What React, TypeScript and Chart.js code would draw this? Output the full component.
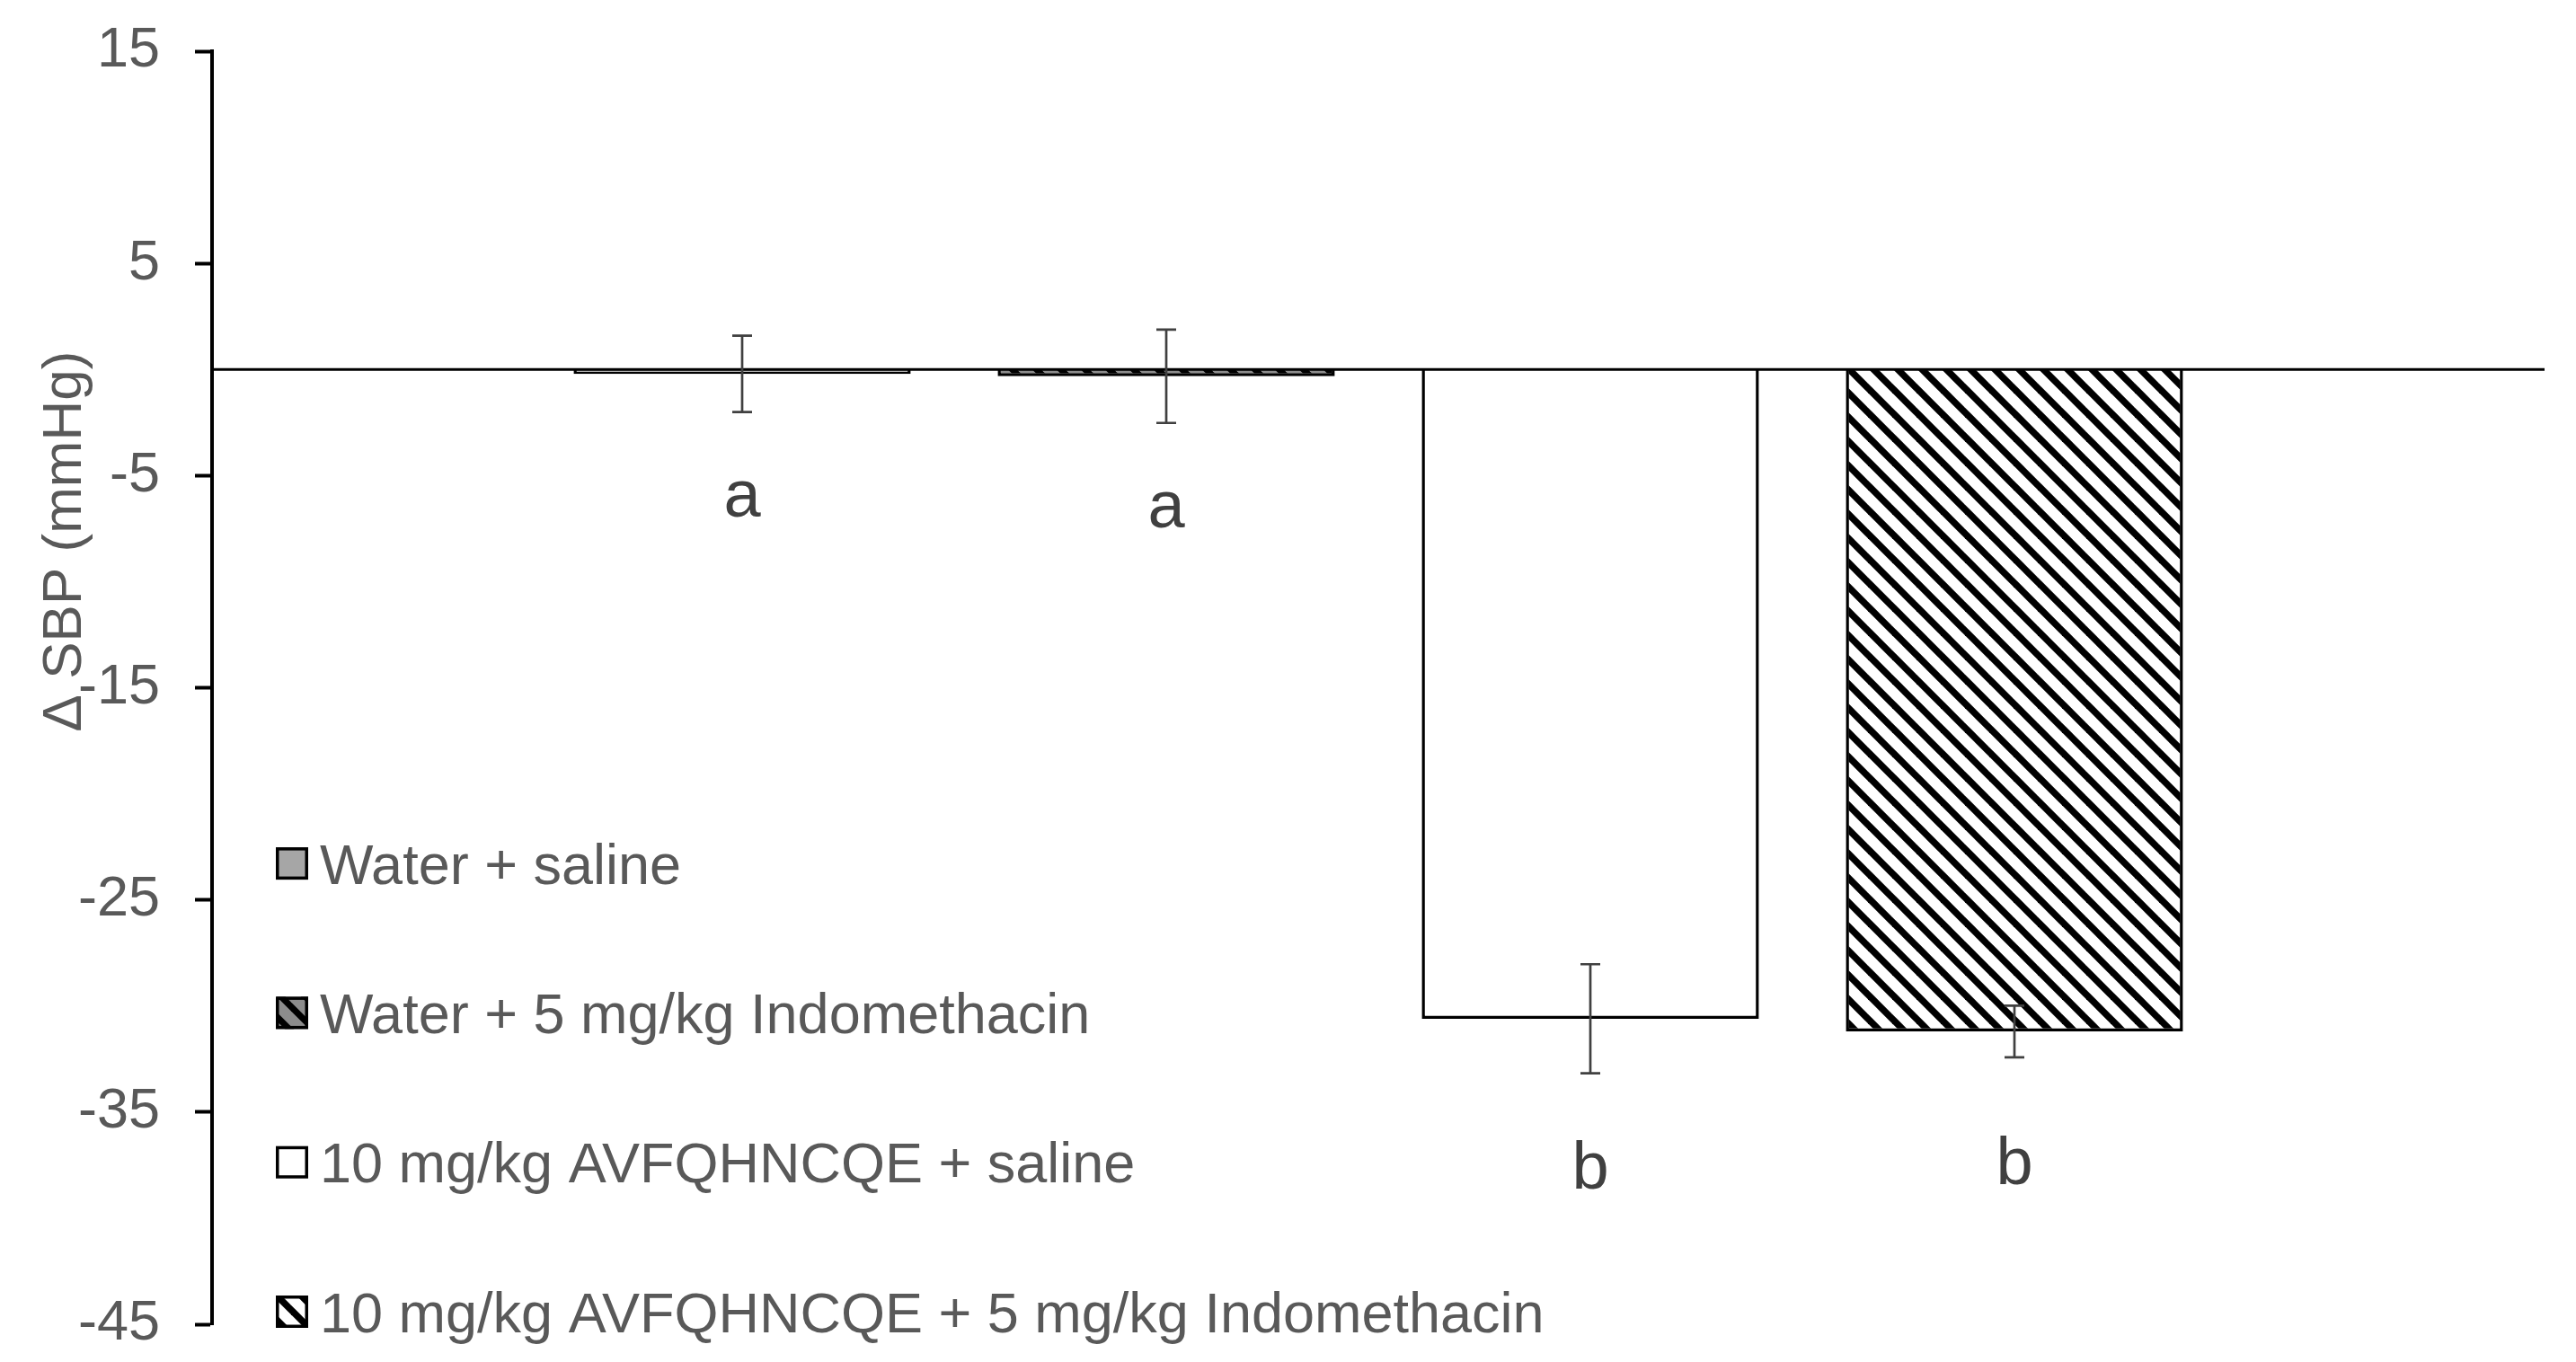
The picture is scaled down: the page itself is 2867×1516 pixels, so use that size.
import React, { useEffect, useRef } from "react";
import { Chart, registerables } from "chart.js";

Chart.register(...registerables);

// ---- data ----
const seriesNames = [
  "Water + saline",
  "Water + 5 mg/kg Indomethacin",
  "10 mg/kg AVFQHNCQE + saline",
  "10 mg/kg AVFQHNCQE + 5 mg/kg Indomethacin",
];
const sbpChange = [-0.21, -0.32, -30.6, -31.2];
const sbpError = [1.8, 2.2, 2.57, 1.22];
const sigLetters = ["a", "a", "b", "b"];
const letterValue = [-6.95, -7.44, -38.6, -38.4];
const yAxisTitle = "\u0394 SBP (mmHg)";
const yMin = -45;
const yMax = 15;
const yStep = 10;

const FONT = "'Liberation Sans', Arial, sans-serif";

function makeHatch(bg: string, fg: string, size: number, lw: number) {
  const c = document.createElement("canvas");
  c.width = size;
  c.height = size;
  const g = c.getContext("2d")!;
  g.fillStyle = bg;
  g.fillRect(0, 0, size, size);
  g.strokeStyle = fg;
  g.lineWidth = lw;
  for (let k = -1; k <= 1; k++) {
    g.beginPath();
    g.moveTo(k * size - size, -size);
    g.lineTo(k * size + 2 * size, 2 * size);
    g.stroke();
  }
  return g.createPattern(c, "repeat")!;
}

export default function App() {
  const ref = useRef<HTMLCanvasElement | null>(null);

  useEffect(() => {
    const canvas = ref.current!;
    const fills: any[] = [
      "#a6a6a6",
      makeHatch("#000000", "#8c8c8c", 27, 12),
      "#ffffff",
      makeHatch("#ffffff", "#000000", 27, 7.5),
    ];

    const overlay = {
      id: "overlay",
      afterDatasetsDraw(chart: any) {
        const ctx = chart.ctx;
        const xs = chart.scales.x;
        const ys = chart.scales.y;
        const area = chart.chartArea;
        ctx.save();
        // zero line
        const y0 = ys.getPixelForValue(0);
        ctx.strokeStyle = "#000";
        ctx.lineWidth = 3;
        ctx.beginPath();
        ctx.moveTo(area.left, y0);
        ctx.lineTo(area.right, y0);
        ctx.stroke();
        // error bars
        ctx.strokeStyle = "#404040";
        ctx.lineWidth = 2.7;
        sbpChange.forEach((v, i) => {
          const x = xs.getPixelForValue(i);
          const yt = ys.getPixelForValue(v + sbpError[i]);
          const yb = ys.getPixelForValue(v - sbpError[i]);
          ctx.beginPath();
          ctx.moveTo(x, yt);
          ctx.lineTo(x, yb);
          ctx.moveTo(x - 11, yt);
          ctx.lineTo(x + 11, yt);
          ctx.moveTo(x - 11, yb);
          ctx.lineTo(x + 11, yb);
          ctx.stroke();
        });
        // letters
        ctx.fillStyle = "#404040";
        ctx.font = `74px ${FONT}`;
        ctx.textAlign = "center";
        ctx.textBaseline = "alphabetic";
        sigLetters.forEach((t, i) => {
          ctx.fillText(t, xs.getPixelForValue(i), ys.getPixelForValue(letterValue[i]));
        });
        // legend
        const rowGap = 166.3;
        const boxX = area.left + 71;
        const box = 36;
        ctx.font = `63px ${FONT}`;
        ctx.textAlign = "left";
        seriesNames.forEach((name, i) => {
          const cy = area.bottom - 14 - (seriesNames.length - 1 - i) * rowGap;
          ctx.fillStyle = fills[i];
          ctx.fillRect(boxX, cy - box / 2, box, box);
          ctx.strokeStyle = "#000";
          ctx.lineWidth = 3.5;
          ctx.strokeRect(boxX + 1.75, cy - box / 2 + 1.75, box - 3.5, box - 3.5);
          ctx.fillStyle = "#595959";
          ctx.fillText(name, boxX + box + 13, cy + 0.358 * 63);
        });
        // y axis title
        ctx.save();
        ctx.translate(90, area.top + 0.385 * (area.bottom - area.top));
        ctx.rotate(-Math.PI / 2);
        ctx.font = `62px ${FONT}`;
        ctx.fillStyle = "#595959";
        ctx.textAlign = "center";
        ctx.textBaseline = "alphabetic";
        ctx.fillText(yAxisTitle, 0, 0);
        ctx.restore();
        ctx.restore();
      },
    };

    const chart = new Chart(canvas, {
      type: "bar",
      data: {
        datasets: [
          {
            label: "SBP change",
            data: sbpChange.map((y, i) => ({ x: i, y })),
            backgroundColor: fills,
            borderColor: "#000000",
            borderWidth: 3.5,
            borderSkipped: "start",
            barPercentage: 0.795,
            categoryPercentage: 1,
          } as any,
        ],
      },
      options: {
        animation: false,
        responsive: false,
        devicePixelRatio: 1,
        layout: { padding: { left: 0, right: 35, top: 57, bottom: 42 } },
        plugins: {
          legend: { display: false },
          tooltip: { enabled: false },
        },
        scales: {
          x: {
            type: "linear",
            display: false,
            offset: false,
            min: -1.25,
            max: 4.25,
            afterBuildTicks: (s: any) => {
              s.ticks = sbpChange.map((_, i) => ({ value: i }));
            },
          },
          y: {
            min: yMin,
            max: yMax,
            ticks: {
              stepSize: yStep,
              color: "#595959",
              font: { size: 63, family: FONT },
              padding: 39,
            },
            grid: {
              display: true,
              drawOnChartArea: false,
              drawTicks: true,
              tickLength: 19,
              tickWidth: 4,
              tickColor: "#000000",
            },
            border: { display: true, color: "#000000", width: 4 },
            afterFit: (s: any) => {
              s.width = 236;
              s.paddingTop = 20;
              s.paddingBottom = 20;
            },
          },
        },
      } as any,
      plugins: [overlay],
    });
    return () => chart.destroy();
  }, []);

  return (
    <div style={{ position: "fixed", left: 0, top: 0, width: 2867, height: 1516, background: "#fff" }}>
      <canvas ref={ref} width={2867} height={1516} style={{ display: "block" }} />
    </div>
  );
}
